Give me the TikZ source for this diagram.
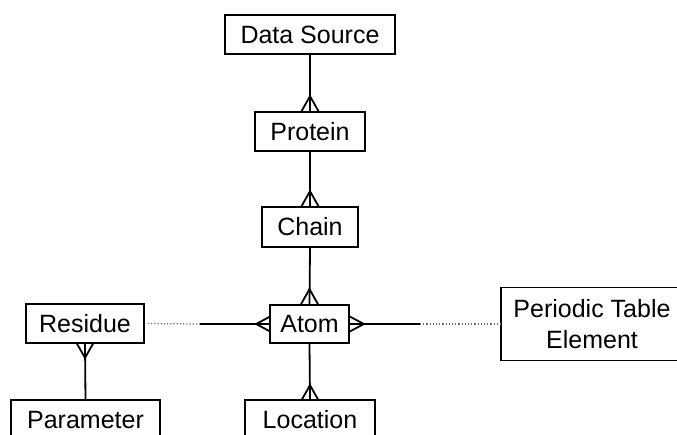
\documentclass[tikz,border=0pt]{standalone}
\usepackage{fontspec}
\setmainfont{Liberation Sans}
\usetikzlibrary{calc}
\tikzset{
  ent/.style={draw, line width=1.6pt, inner sep=0pt, font=\fontsize{25}{31}\selectfont, align=center},
  cut/.style={ent, draw=none},
  frame/.style={line width=1.6pt},
  rel/.style={line width=1.8pt},
  opt/.style={line width=1.2pt, dotted, black!60},
}
\newcommand{\crowfoot}[3]{% #1 point on box, #2 apex offset, #3 half-spread
  \draw[rel] ($(#1)+(#3)$) -- ($(#1)+(#2)$) -- ($(#1)-(#3)$);}
\begin{document}
\begin{tikzpicture}[x=1pt,y=-1pt]
\useasboundingbox (0,0) rectangle (677,434);
\clip (0,0) rectangle (677,434);
\node[ent, minimum width=170, minimum height=39] (ds) at (310,34.5) {Data Source};
\node[ent, minimum width=110, minimum height=39] (pr) at (310,131.5) {Protein};
\node[ent, minimum width=96, minimum height=40] (ch) at (310,227) {Chain};
\node[ent, minimum width=79, minimum height=38] (at) at (309.5,324) {Atom};
\node[ent, minimum width=118, minimum height=39] (re) at (85,323.5) {Residue};
\node[cut, minimum width=147, minimum height=28] (pa) at (85.5,420) {Parameter};
\node[cut, minimum width=128, minimum height=28] (lo) at (310,420) {Location};
\node[ent, minimum width=182, minimum height=73] (pt) at (592,324) {Periodic Table\\Element};
\draw[frame] (pa.south west) -- ([yshift=5pt]pa.north west) -- ([yshift=5pt]pa.north east) -- (pa.south east);
\draw[frame] (lo.south west) -- ([yshift=5pt]lo.north west) -- ([yshift=5pt]lo.north east) -- (lo.south east);
\coordinate (rm) at (200,324);
\coordinate (pm) at (420,324);
% connectors
\draw[rel] (ds.south) -- (pr.north);
\crowfoot{pr.north}{0,-15}{8.5,0}
\draw[rel] (pr.south) -- (ch.north);
\crowfoot{ch.north}{0,-15}{8.5,0}
\draw[rel] (ch.south) -- (at.north);
\crowfoot{at.north}{0,-15}{8.5,0}
\draw[rel] (at.south) -- ([yshift=5pt]lo.north);
\crowfoot{[yshift=5pt]lo.north}{0,-15}{8.5,0}
\draw[rel] ([yshift=5pt]pa.north) -- (re.south);
\crowfoot{re.south}{0,14}{8,0}
\draw[opt] ([xshift=3pt]re.east) -- (rm);
\draw[rel] (rm) -- (at.west);
\crowfoot{at.west}{-13,0}{0,7}
\draw[rel] (at.east) -- (pm);
\crowfoot{at.east}{14,0}{0,7.5}
\draw[opt] (pm) -- (pt.west);
\end{tikzpicture}
\end{document}
